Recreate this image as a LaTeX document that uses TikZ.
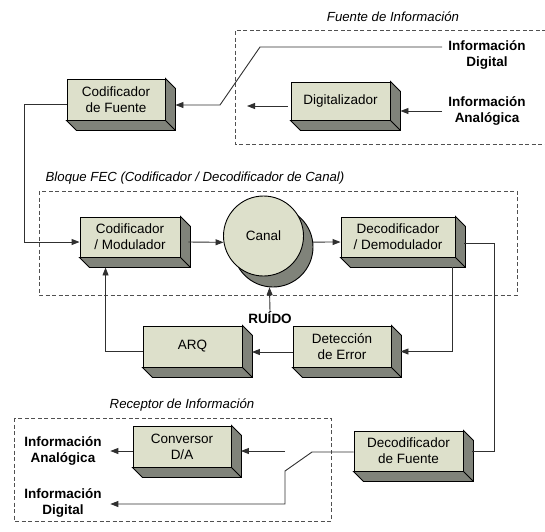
\documentclass[tikz,border=0pt]{standalone}
\usepackage{fontspec}
\setmainfont{Liberation Sans}
\usetikzlibrary{arrows.meta,calc}

\definecolor{facefront}{HTML}{DDE0CB}
\definecolor{faceside}{HTML}{80837A}
\definecolor{wirecol}{HTML}{303030}
\definecolor{framecol}{HTML}{505050}

\tikzset{
  blk/.style={draw=black, line width=0.9pt, fill=facefront, inner sep=0pt,
    align=center, font=\fontsize{13.5}{16}\selectfont},
  sideface/.style={draw=black, line width=0.9pt, fill=faceside, line join=miter},
  wire/.style={draw=wirecol, line width=0.9pt},
  arr/.style={wire, -{Stealth[length=8pt,width=6pt,inset=0pt]}},
  frame/.style={draw=framecol, line width=0.8pt, dash pattern=on 4pt off 2.5pt},
  grouplabel/.style={font=\fontsize{13.2}{16}\selectfont\itshape, inner sep=0pt},
  iolabel/.style={font=\fontsize{13.5}{16}\selectfont\bfseries, align=center, inner sep=0pt},
}

% right and bottom faces of a raised block
\newcommand\blockdepth[1]{%
  \filldraw[sideface] (#1.north east) -- ([shift={(10,10)}]#1.north east)
    -- ([shift={(10,10)}]#1.south east) -- ([shift={(10,10)}]#1.south west)
    -- (#1.south west) -- (#1.south east) -- cycle;
  \draw[sideface, fill=none] (#1.south east) -- ([shift={(10,10)}]#1.south east);
}

\begin{document}
\begin{tikzpicture}[x=1pt, y=-1pt]
\useasboundingbox (0,0) rectangle (545,531);

% group frames
\draw[frame] (546,30) -- (235,30) -- (235,144) -- (546,144);
\draw[frame] (39,191) rectangle (517,295);
\draw[frame] (14,418) rectangle (331,521);

% group titles
\node[grouplabel] (lblfuente) at (393,17) {Fuente de Información};
\node[grouplabel] (lblfec) at (195,178) {Bloque FEC (Codificador / Decodificador de Canal)};
\node[grouplabel] (lblrec) at (182,405) {Receptor de Información};

% inputs and outputs
\node[iolabel] (indig) at (487,54.5) {Información\\Digital};
\node[iolabel] (inana) at (487,111) {Información\\Analógica};
\node[iolabel] (outana) at (63,450.5) {Información\\Analógica};
\node[iolabel] (outdig) at (63,503) {Información\\Digital};
\node[iolabel] (ruido) at (270,318) {RUÍDO};

% blocks
\node[blk, minimum width=98pt, minimum height=41pt] (cf) at (116,99.5) {Codificador\\de Fuente};
\blockdepth{cf}
\node[blk, minimum width=99pt, minimum height=38pt] (dg) at (340.5,101) {Digitalizador};
\blockdepth{dg}
\node[blk, minimum width=100pt, minimum height=40pt] (cm) at (130,237) {Codificador\\/ Modulador};
\blockdepth{cm}
\node[blk, minimum width=114pt, minimum height=40pt] (dd) at (398,237) {Decodificador\\/ Demodulador};
\blockdepth{dd}
\node[blk, minimum width=99pt, minimum height=41pt] (arq) at (192.5,346.5) {ARQ};
\blockdepth{arq}
\node[blk, minimum width=98pt, minimum height=41pt] (de) at (342,346.5) {Detección\\de Error};
\blockdepth{de}
\node[blk, minimum width=98pt, minimum height=41pt] (da) at (182,446.5) {Conversor\\D/A};
\blockdepth{da}
\node[blk, minimum width=109pt, minimum height=40pt] (df) at (408.5,451) {Decodificador\\de Fuente};
\blockdepth{df}

% channel
\node[circle, draw=black, line width=0.9pt, fill=faceside, minimum size=80pt, inner sep=0pt] (canalshadow) at (273,247) {};
\node[circle, draw=black, line width=0.9pt, fill=facefront, minimum size=80pt, inner sep=0pt,
      font=\fontsize{13.5}{16}\selectfont] (canal) at (263.5,236) {Canal};

% switch points
\coordinate (dsrc) at (442,47);
\coordinate (dbendA) at (260,47);
\coordinate (dbendB) at (220,105);
\coordinate (dgout) at (247,106);
\coordinate (swA) at (312,452);
\coordinate (swB) at (285,471);
\coordinate (swC) at (285,451);

% connectors
\draw[arr] (dsrc) -- (dbendA) -- (dbendB) -- ($(cf.east)+(10,5.5)$);
\draw[arr] ($(dg.west)+(-3,5)$) -- (dgout);
\draw[arr] ([xshift=-6pt]inana.west) -- ($(dg.east)+(10,10)$);
\draw[arr] ($(cf.west)+(0,4.5)$) -- ++(-42,0) |- ($(cm.west)+(0,5)$);
\draw[arr] ($(cm.east)+(8,5)$) -- (canal.189);
\draw[arr] (canalshadow.7) -- ($(dd.west)+(0,5)$);
\draw[wire] ($(dd.east)+(9,6)$) -- ++(30,0) |- ($(df.east)+(9,0)$);
\draw[arr] ($(dd.south east)+(-3,10)$) |- ($(de.east)+(9,5)$);
\draw[arr] ($(de.west)+(0,5.5)$) -- ($(arq.east)+(9.5,5.5)$);
\draw[arr] ($(arq.west)+(0,4.5)$) -| ($(cm.south west)+(26,10)$);
\draw[arr] (ruido.north) -- (canalshadow.265);
\draw[arr] ($(df.west)+(0,1)$) -- (swA) -- (swB) |- ($(outdig.east)+(8.5,1)$);
\draw[arr] (swC) -- ($(da.east)+(9.5,4.5)$);
\draw[arr] ($(da.west)+(0,4.5)$) -- ($(outana.east)+(8.5,0.5)$);
\end{tikzpicture}
\end{document}
